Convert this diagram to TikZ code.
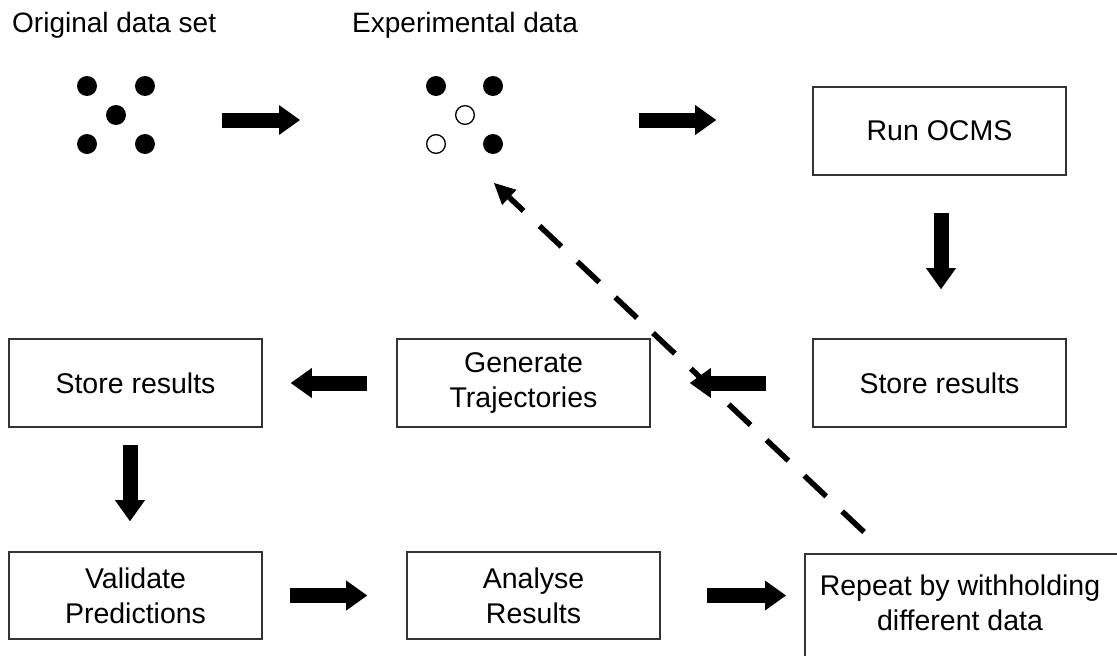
\documentclass[tikz,border=0pt]{standalone}
\usepackage{fontspec}
\setmainfont{Liberation Sans}
\usetikzlibrary{arrows.meta}
\begin{document}
\begin{tikzpicture}[x=1pt,y=-1pt,
  box/.style={draw=black!80, line width=1.6pt, minimum width=253pt, minimum height=88pt, inner sep=0pt, align=center, font=\fontsize{28.5}{35}\selectfont},
  txt/.style={inner sep=0pt, align=center, font=\fontsize{28.5}{35}\selectfont},
  lbl/.style={inner sep=0pt, anchor=base west, font=\fontsize{28}{34}\selectfont},
  fulldot/.style={circle, fill=black, minimum size=20pt, inner sep=0pt},
  opendot/.style={circle, draw=black, line width=1.3pt, fill=white, minimum size=18.7pt, inner sep=0pt},
  blockarr/.style={line width=15pt, -{Triangle[length=21pt,width=30pt,line width=0pt]}},
  dasharr/.style={line width=5.5pt, dash pattern=on 30pt off 22pt, -{Triangle[length=21pt,width=21pt,line width=0pt]}}
]
\useasboundingbox (0,0) rectangle (1117,656);

% labels
\node[lbl] (lorig) at (12,32) {Original data set};
\node[lbl] (lexp) at (352,32) {Experimental data};

% original data set
\node[fulldot] (o1) at (87,86) {};
\node[fulldot] (o2) at (145,86) {};
\node[fulldot] (o3) at (116,115) {};
\node[fulldot] (o4) at (87,144) {};
\node[fulldot] (o5) at (145,144) {};

% experimental data
\node[fulldot] (e1) at (436,86) {};
\node[fulldot] (e2) at (493,86) {};
\node[opendot] (e3) at (465,115) {};
\node[opendot] (e4) at (436,144) {};
\node[fulldot] (e5) at (493,144) {};

% boxes
\node[box] (run) at (939.5,131) {Run OCMS};
\node[box] (store1) at (939.5,383) {Store results};
\node[box] (gen) at (523.5,383) {Generate\\Trajectories};
\node[box] (store2) at (135.5,383) {Store results};
\node[box, minimum height=87pt] (val) at (135.5,595.5) {Validate\\Predictions};
\node[box, minimum height=87pt] (ana) at (533.5,595.5) {Analyse\\Results};
\node[box, anchor=north west, minimum width=320pt, minimum height=115pt] (rep) at (804,553) {};
\node[txt] (reptxt) at (960,602.5) {Repeat by withholding\\different data};

% block arrows
\coordinate (a1s) at (222,120);
\coordinate (a1e) at (300,120);
\draw[blockarr] (a1s) -- (a1e);
\coordinate (a2s) at (639,120);
\draw[blockarr, shorten >=96pt] (a2s) -- (a2s -| run.west);
\draw[blockarr, shorten <=37pt, shorten >=49pt] ([xshift=1.5pt]run.south) -- ([xshift=1.5pt]store1.north);
\draw[blockarr, shorten <=46pt, shorten >=39pt] (store1.west) -- (gen.east);
\draw[blockarr, shorten <=29pt, shorten >=28pt] (gen.west) -- (store2.east);
\draw[blockarr, shorten <=17pt, shorten >=30pt] ([xshift=-5.5pt]store2.south) -- ([xshift=-5.5pt]val.north);
\draw[blockarr, shorten <=27pt, shorten >=39pt] (val.east) -- (ana.west);
\draw[blockarr, shorten <=46pt, shorten >=18pt] (ana.east) -- (ana.east -| rep.west);

% dashed feedback arrow
\coordinate (ds) at (864,532);
\coordinate (de) at (494,183);
\draw[dasharr] (ds) -- (de);
\end{tikzpicture}
\end{document}
